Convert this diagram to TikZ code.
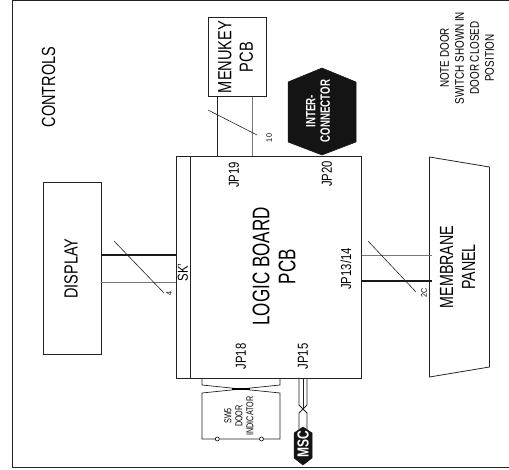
\documentclass[tikz,border=0pt]{standalone}
\usepackage{fontspec}
\setmainfont{Liberation Sans}
\definecolor{ink}{HTML}{222222}
\definecolor{wiregrey}{HTML}{777777}
\newcommand{\fs}[1]{\fontsize{#1}{#1}\selectfont}
\tikzset{
  lbl/.style 2 args={rotate=90,transform shape,xscale=#2,inner sep=0pt,text=black,font=\fs{#1},align=center},
  wlbl/.style 2 args={rotate=90,transform shape,xscale=#2,inner sep=0pt,text=white,font=\fs{#1}\bfseries,align=center},
  boxn/.style={draw=ink,line width=.8pt,inner sep=0pt,fill=none},
  greyw/.style={draw=wiregrey,line width=.9pt},
  thickw/.style={draw=black!90,line width=1.7pt},
  slash/.style={draw=ink,line width=.6pt},
  hexa/.style={fill=black!92,draw=black!92,line width=.5pt},
  pin/.style={circle,draw=ink,line width=.7pt,fill=white,inner sep=0pt,minimum size=4pt}
}
\begin{document}
\begin{tikzpicture}[x=1pt,y=-1pt]
\useasboundingbox (0,0) rectangle (509,470);
% frame
\draw[draw=ink,line width=1pt] (509,.6) -- (12.3,.6) -- (12.3,467.6) -- (509,467.6);
% boxes
\node[boxn,minimum width=58pt,minimum height=172pt] (display) at (72,268.3) {};
\draw[draw=ink,line width=1.4pt] (display.south west) -- (display.south east);
\node[boxn,minimum width=185pt,minimum height=221.5pt] (board) at (269,267.3) {};
\coordinate (skT) at (190.5,156.5);
\coordinate (skB) at (190.5,378);
\draw[draw=ink,line width=.7pt] (skT) -- (skB);
\node[boxn,minimum width=57.5pt,minimum height=79pt] (menukey) at (237.3,57) {};
% interconnector
\draw[hexa] (322,68) -- (356,82) -- (356,142) -- (322,155) -- (288,142) -- (288,82) -- cycle;
\node[wlbl={13.5}{.72}] (inter) at (318,111) {INTER-\\[1pt]CONNECTOR};
% membrane
\coordinate (memA) at (429.5,157);
\coordinate (memB) at (489.5,167);
\coordinate (memC) at (489.5,367);
\coordinate (memD) at (429.5,377);
\draw[draw=ink,line width=.8pt] (memA) -- (memB) -- (memC) -- (memD) -- cycle;
% rows
\coordinate (r1) at (0,255);
\coordinate (r2) at (0,282.6);
\coordinate (r3) at (0,280.7);
\coordinate (c1) at (217,0);
\coordinate (c2) at (252,0);
\coordinate (m1) at (432,255);
\coordinate (m2) at (432,280.7);
% connectors
\draw[thickw] (display.east |- r1) -- (board.west |- r1);
\draw[greyw] (display.east |- r2) -- (board.west |- r2);
\draw[draw=ink,line width=.9pt] (menukey.south -| c1) -- (board.north -| c1);
\draw[greyw] (menukey.south -| c2) -- (board.north -| c2);
\draw[greyw] (board.east |- r1) -- (m1);
\draw[thickw] (board.east |- r3) -- (m2);
% slashes
\coordinate (s1a) at (114,241); \coordinate (s1b) at (164,293);
\coordinate (s2a) at (208,110); \coordinate (s2b) at (257,135);
\coordinate (s3a) at (368,241); \coordinate (s3b) at (416,292);
\draw[slash] (s1a) -- (s1b);
\draw[slash] (s2a) -- (s2b);
\draw[slash] (s3a) -- (s3b);
% switch
\coordinate (swL) at (202,378); \coordinate (swR) at (280,378);
\coordinate (swL1) at (202,385); \coordinate (swR1) at (280,385);
\coordinate (swL2) at (202,393); \coordinate (swR2) at (280,393);
\coordinate (swL3) at (202,439); \coordinate (swR3) at (280,439);
\draw[draw=ink,line width=.7pt] (swL) -- (swL1) -- (swR2) -- (swR3) -- (swL3) -- (swL2) -- (swR1) -- (swR);
\draw[draw=black,line width=1.2pt] (232,389) -- (250,389);
\node[pin] (p1) at (217.3,439) {};
\node[pin] (p2) at (261.5,439) {};
% MSC
\coordinate (a1) at (299,378); \coordinate (a2) at (303,378); \coordinate (a3) at (307,378);
\coordinate (b1) at (299,405); \coordinate (b2) at (303,409); \coordinate (b3) at (307,405);
\coordinate (d1) at (299,413); \coordinate (d3) at (307,413);
\coordinate (e1) at (299,430); \coordinate (e3) at (307,430);
\draw[draw=ink,line width=.8pt] (a1) -- (b1) -- (b2) -- (d1) -- (e1);
\draw[draw=ink,line width=.8pt] (a3) -- (b3) -- (b2) -- (d3) -- (e3);
\draw[draw=ink,line width=.8pt] (a2) -- (b2);
\draw[hexa] (303,427) -- (312,433) -- (312,458) -- (303,465) -- (294,458) -- (294,433) -- cycle;
\node[wlbl={16}{.75}] (msc) at (303,444) {MSC};
% labels
\node[lbl={19}{.76}] (controls) at (48.5,87) {CONTROLS};
\node[lbl={19}{.77}] (menu) at (235.7,57) {MENUKEY\\[2.5pt]PCB};
\node[lbl={19}{.76}] (disp) at (71,268.5) {DISPLAY};
\node[lbl={24}{.71}] (logic) at (274,266.5) {LOGIC BOARD\\[2pt]PCB};
\node[lbl={19}{.75}] (memb) at (457.5,267) {MEMBRANE\\[3pt]PANEL};
\node[lbl={14.5}{.78}] (jp19) at (234,175) {JP19};
\node[lbl={14.5}{.78}] (jp20) at (327,174) {JP20};
\node[lbl={14.5}{.78}] (jp18) at (241,356.5) {JP18};
\node[lbl={14.5}{.78}] (jp15) at (303,356.5) {JP15};
\node[lbl={14.5}{.78}] (jp13) at (346,269) {JP13/14};
\node[lbl={14.5}{.78}] (sk) at (183,272.5) {SK'};
\node[lbl={8}{.9}] (n4) at (169,293) {4};
\node[lbl={8}{.9}] (n10) at (269,138) {10};
\node[lbl={8}{.9}] (n2c) at (424,293) {2C};
\node[lbl={10}{.72},text width=60pt,align=center] (sw) at (239,416) {SW5\\[1pt]DOOR\\[1pt]INDICATOR};
\node[lbl={12.5}{.79}] (note) at (467,58) {NOTE DOOR\\[2.5pt]SWITCH SHOWN IN\\[2.5pt]DOOR CLOSED\\[2.5pt]POSITION};
\end{tikzpicture}
\end{document}
